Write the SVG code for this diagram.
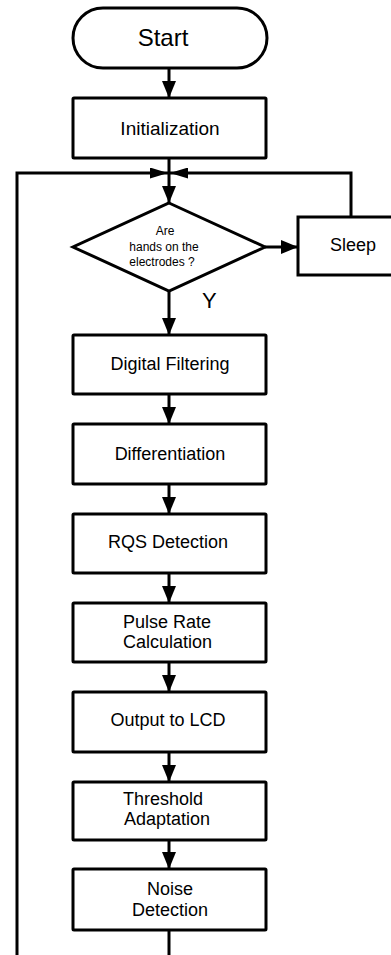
<svg xmlns="http://www.w3.org/2000/svg" width="391" height="955" viewBox="0 0 391 955">
<style>
.s{fill:#fff;stroke:#000;stroke-width:3}
.c{fill:none;stroke:#000;stroke-width:3}
text{font-family:"Liberation Sans",Arial,sans-serif;fill:#000}
.t{font-size:18px;text-anchor:middle}
.l{font-size:18px}
</style>
<defs>
<marker id="ah" markerUnits="userSpaceOnUse" markerWidth="17" markerHeight="14" refX="17" refY="7" orient="auto" viewBox="0 0 17 14">
<path d="M0,0 L17,7 L0,14 z" fill="#000"/>
</marker>
<marker id="ahs" markerUnits="userSpaceOnUse" markerWidth="18" markerHeight="11" refX="18" refY="5.5" orient="auto" viewBox="0 0 18 11">
<path d="M0,0 L18,5.5 L0,11 z" fill="#000"/>
</marker>
</defs>
<g id="connectors">
<line class="c" x1="169" y1="68" x2="169" y2="98" marker-end="url(#ah)"/>
<line class="c" x1="169" y1="158" x2="169" y2="203" marker-end="url(#ah)"/>
<polyline class="c" points="17,955 17,173 168,173" marker-end="url(#ahs)"/>
<polyline class="c" points="351,217 351,173 170,173" marker-end="url(#ahs)"/>
<line class="c" x1="265" y1="247" x2="298" y2="247" marker-end="url(#ah)"/>
<line class="c" x1="169" y1="291" x2="169" y2="335" marker-end="url(#ah)"/>
<line class="c" x1="169" y1="394" x2="169" y2="424" marker-end="url(#ah)"/>
<line class="c" x1="169" y1="484" x2="169" y2="514" marker-end="url(#ah)"/>
<line class="c" x1="169" y1="573" x2="169" y2="603" marker-end="url(#ah)"/>
<line class="c" x1="169" y1="662" x2="169" y2="692" marker-end="url(#ah)"/>
<line class="c" x1="169" y1="752" x2="169" y2="782" marker-end="url(#ah)"/>
<line class="c" x1="169" y1="840" x2="169" y2="869" marker-end="url(#ah)"/>
<line class="c" x1="169" y1="930" x2="169" y2="955"/>
<text x="202" y="308" style="font-size:22px">Y</text>
</g>
<g id="start">
<rect class="s" x="73" y="8" width="194" height="60" rx="30" ry="30"/>
<text x="163" y="46" style="font-size:24px;text-anchor:middle">Start</text>
</g>
<g id="init">
<rect class="s" x="73" y="98" width="193" height="60" rx="1"/>
<text class="t" x="170" y="135" style="font-size:19px">Initialization</text>
</g>
<g id="decision">
<polygon class="s" points="169,203 265,247 169,291 73,247"/>
<text x="165" y="235" style="font-size:12px;text-anchor:middle">Are</text>
<text x="164" y="251" style="font-size:12px;text-anchor:middle">hands on the</text>
<text x="162" y="266" style="font-size:12px;text-anchor:middle">electrodes ?</text>
</g>
<g id="sleep">
<rect class="s" x="298" y="217" width="100" height="58"/>
<text class="t" x="353" y="251">Sleep</text>
</g>
<g id="filter">
<rect class="s" x="73" y="335" width="193" height="59" rx="1"/>
<text class="t" x="170" y="370">Digital Filtering</text>
</g>
<g id="diff">
<rect class="s" x="73" y="424" width="193" height="60" rx="1"/>
<text class="t" x="170" y="460">Differentiation</text>
</g>
<g id="rqs">
<rect class="s" x="73" y="514" width="193" height="59" rx="1"/>
<text class="t" x="168" y="548">RQS Detection</text>
</g>
<g id="pulse">
<rect class="s" x="73" y="603" width="193" height="59" rx="1"/>
<text class="l" x="123" y="628">Pulse Rate</text>
<text class="l" x="123" y="648">Calculation</text>
</g>
<g id="lcd">
<rect class="s" x="73" y="692" width="193" height="60" rx="1"/>
<text class="t" x="168" y="726">Output to LCD</text>
</g>
<g id="threshold">
<rect class="s" x="73" y="782" width="193" height="58" rx="1"/>
<text class="l" x="123" y="805">Threshold</text>
<text class="l" x="124" y="825">Adaptation</text>
</g>
<g id="noise">
<rect class="s" x="73" y="869" width="193" height="61" rx="1"/>
<text class="t" x="170" y="895">Noise</text>
<text class="t" x="170" y="916">Detection</text>
</g>
</svg>
